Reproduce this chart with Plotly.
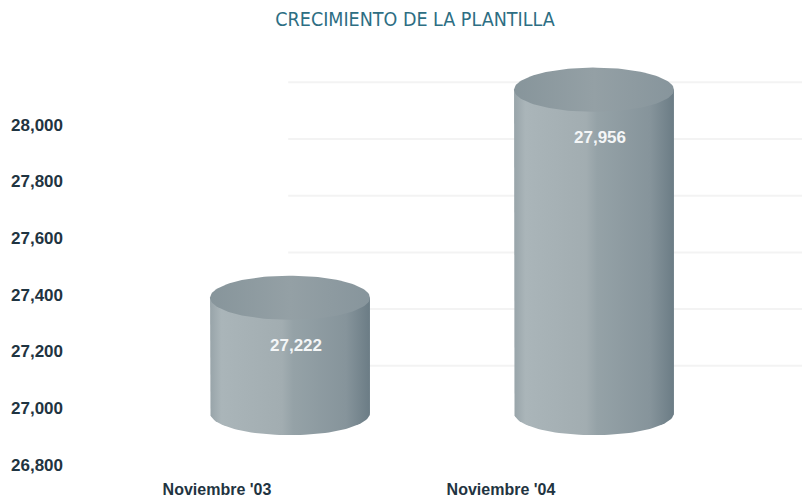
import numpy as np
import plotly.graph_objects as go

# --- data ---
categories = ["Noviembre '03", "Noviembre '04"]
employees = [27222, 27956]
value_labels = ["27,222", "27,956"]
y_ticks = [26800, 27000, 27200, 27400, 27600, 27800, 28000]

# --- styling / geometry constants ---
TITLE = "CRECIMIENTO DE LA PLANTILLA"
DEPTH_SHIFT = 167          # front plane sits this many units below the back wall
FLOOR = 26815              # front-plane floor where cylinders stand
HALF_W = 0.263             # cylinder half width (category units)
CAP_H = 78                 # half height of the elliptical caps (value units)
Y_RANGE = [26753, 28369]   # back wall value range
BODY_SCALE = [[0.0, "#98a4a9"], [0.07, "#aab5b9"], [0.45, "#a2adb1"],
              [0.52, "#95a2a7"], [0.85, "#86949b"], [1.0, "#6b7c85"]]
CAP_SCALE = [[0.0, "#87959b"], [0.5, "#94a0a5"], [1.0, "#87959c"]]
TEXT_DARK = "#1f3441"

t = np.linspace(0, np.pi, 60)

fig = go.Figure()

# back-wall subplot carrying the category and value axes
fig.add_trace(go.Scatter(x=[0, 1], y=[None, None], mode="none", xaxis="x", yaxis="y",
                         hoverinfo="skip", showlegend=False))

for i, (cat, val) in enumerate(zip(categories, employees)):
    xc = i
    # body: left side down, front half of the floor ellipse, right side up
    bx = np.concatenate([[xc - HALF_W], xc - HALF_W * np.cos(t), [xc + HALF_W]])
    by = np.concatenate([[val], FLOOR - CAP_H * np.sin(t), [val]])
    fig.add_trace(go.Scatter(
        x=bx, y=by, xaxis="x2", yaxis="y2", mode="lines", fill="toself",
        line=dict(width=0), fillgradient=dict(type="horizontal", colorscale=BODY_SCALE),
        hoverinfo="skip", name=cat, showlegend=False))
    # top cap
    tt = np.linspace(0, 2 * np.pi, 120)
    fig.add_trace(go.Scatter(
        x=xc + HALF_W * np.cos(tt), y=val + CAP_H * np.sin(tt),
        xaxis="x2", yaxis="y2", mode="lines", fill="toself",
        line=dict(width=0), fillgradient=dict(type="horizontal", colorscale=CAP_SCALE),
        hoverinfo="skip", showlegend=False))
    # value label
    fig.add_annotation(x=xc + 0.02, y=val, xref="x2", yref="y", text=value_labels[i],
                       showarrow=False,
                       font=dict(family="Liberation Sans, Arial", size=17, color="#f4f6f7",
                                 weight="bold"))

# faint back-wall grid lines
for v in y_ticks[1:]:
    fig.add_shape(type="line", xref="paper", yref="y2", x0=0.30, x1=1.0,
                  y0=v - 18, y1=v - 18, layer="below",
                  line=dict(color="#f3f3f3", width=2))

fig.update_layout(
    width=802, height=498,
    margin=dict(l=68, r=0, t=20, b=20),
    paper_bgcolor="white", plot_bgcolor="white",
    showlegend=False,
    title=dict(text=TITLE, x=415 / 802, xanchor="center", y=(498 - 19) / 498,
               yanchor="middle",
               font=dict(family="Liberation Sans Narrow, DejaVu Sans Condensed, Arial Narrow",
                         size=19.5, color="#2d6e83")),
    xaxis=dict(range=[-0.5246, 2.0599], tickvals=[0, 1], ticktext=categories,
               showgrid=False, zeroline=False, showline=False, ticks="",
               ticklabeloverflow="allow", ticklabelstandoff=0,
               tickfont=dict(family="Liberation Sans, Arial", size=16, color=TEXT_DARK,
                             weight="bold")),
    yaxis=dict(range=Y_RANGE, tickvals=y_ticks, tickformat=",",
               showgrid=False, zeroline=False, showline=False, ticks="",
               ticklabelstandoff=4,
               tickfont=dict(family="Liberation Sans, Arial", size=17, color=TEXT_DARK,
                             weight="bold")),
    xaxis2=dict(range=[-0.7303, 1.6842], overlaying="x", visible=False),
    yaxis2=dict(range=[Y_RANGE[0] - DEPTH_SHIFT, Y_RANGE[1] - DEPTH_SHIFT],
                overlaying="y", visible=False),
)

fig.write_html("out.html")
